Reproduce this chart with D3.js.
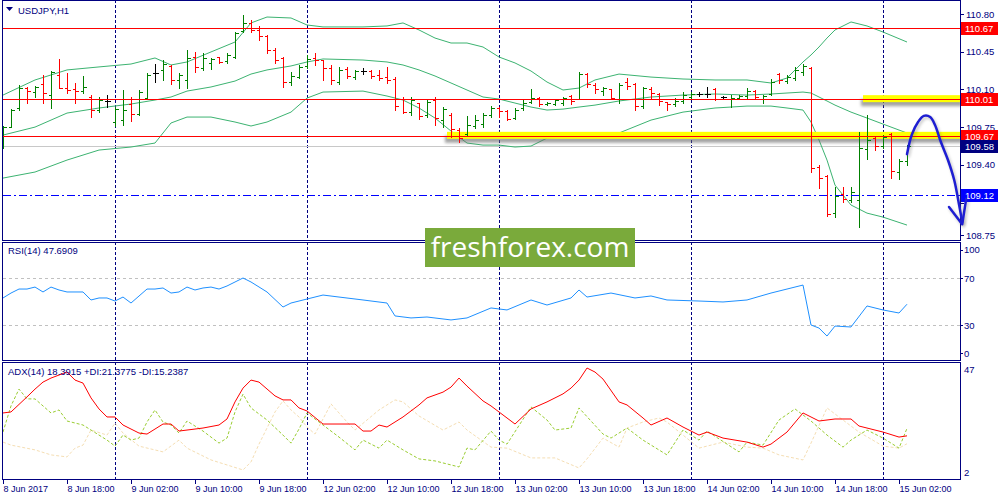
<!DOCTYPE html>
<html>
<head>
<meta charset="utf-8">
<script src="https://cdn.jsdelivr.net/npm/d3@7"></script>
<style>
body { margin: 0; background: #fff; }
svg { display: block; font-family: "Liberation Sans", Arial, sans-serif; }
</style>
</head>
<body>
<script>
// ---- data ----
const barOpen = [109.631,109.751,109.928,110.113,110.076,110.150,110.048,110.234,110.113,110.104,
  110.085,110.030,109.909,109.993,109.798,109.816,109.965,109.872,110.020,110.253,
  110.281,110.318,110.188,110.188,110.401,110.299,110.346,110.401,110.364,110.401,
  110.642,110.717,110.652,110.596,110.466,110.392,110.169,110.215,110.318,110.392,
  110.373,110.299,110.169,110.290,110.215,110.271,110.271,110.234,110.215,110.197,
  110.011,109.890,109.974,109.863,110.002,109.816,109.863,109.724,109.686,109.761,
  109.779,109.863,109.928,109.900,109.835,109.928,109.983,110.020,109.965,109.965,
  109.974,110.039,110.011,110.243,110.141,110.085,110.104,110.011,110.169,110.150,
  109.946,110.104,110.058,109.983,109.965,109.993,110.030,110.058,110.058,110.104,
  110.030,110.011,110.020,110.039,110.085,110.011,110.058,110.243,110.178,110.206,
  110.262,110.299,109.380,109.297,108.953,109.131,109.074,109.074,109.547,109.649,
  109.575,109.686,109.334,109.436];
const barHigh = [109.761,109.918,110.141,110.123,110.132,110.234,110.271,110.383,110.253,110.160,
  110.225,110.048,110.030,110.048,109.937,110.095,110.030,110.095,110.253,110.336,
  110.373,110.327,110.253,110.466,110.448,110.438,110.392,110.401,110.438,110.633,
  110.791,110.744,110.689,110.605,110.485,110.401,110.262,110.327,110.420,110.438,
  110.373,110.327,110.309,110.309,110.281,110.299,110.281,110.281,110.309,110.215,
  110.030,110.030,109.974,110.002,110.030,109.937,109.881,109.742,109.853,109.863,
  109.881,109.946,109.937,109.909,109.928,110.002,110.104,110.030,109.983,110.011,
  110.030,110.048,110.262,110.253,110.160,110.123,110.104,110.160,110.206,110.160,
  110.123,110.123,110.067,109.983,110.020,110.076,110.076,110.076,110.123,110.113,
  110.039,110.048,110.048,110.113,110.095,110.048,110.197,110.253,110.234,110.309,
  110.336,110.309,109.399,109.306,109.195,109.195,109.195,109.705,109.863,109.658,
  109.677,109.696,109.455,109.584];
const barLow = [109.556,109.751,109.909,109.974,110.030,109.974,109.928,110.113,110.067,109.974,
  110.067,109.844,109.890,109.937,109.761,109.770,109.807,109.863,110.011,110.169,
  110.188,110.150,110.113,110.113,110.262,110.281,110.290,110.346,110.346,110.392,
  110.633,110.633,110.559,110.438,110.346,110.123,110.141,110.206,110.299,110.327,
  110.188,110.150,110.150,110.206,110.197,110.243,110.206,110.188,110.160,109.909,
  109.881,109.863,109.825,109.844,109.770,109.751,109.658,109.612,109.677,109.742,
  109.751,109.844,109.844,109.816,109.825,109.909,109.974,109.946,109.955,109.955,
  109.955,109.965,110.011,110.123,110.067,110.048,110.011,109.974,110.104,109.909,
  109.928,110.020,109.955,109.909,109.946,109.974,110.020,110.039,110.030,110.002,
  110.011,109.937,110.011,110.020,110.011,109.974,110.048,110.160,110.160,110.188,
  110.234,109.334,109.186,108.925,108.916,109.055,109.055,108.823,109.455,109.538,
  109.556,109.278,109.269,109.399];
const barClose = [109.751,109.909,110.113,110.085,110.123,110.067,110.262,110.113,110.095,110.085,
  110.123,109.909,110.002,109.993,109.918,109.909,109.872,110.076,110.234,110.253,
  110.336,110.188,110.234,110.392,110.309,110.392,110.383,110.355,110.420,110.624,
  110.717,110.652,110.596,110.466,110.373,110.169,110.225,110.309,110.383,110.373,
  110.299,110.188,110.281,110.225,110.271,110.271,110.225,110.206,110.188,109.946,
  109.890,110.002,109.853,109.983,109.835,109.918,109.733,109.649,109.770,109.816,
  109.863,109.928,109.900,109.825,109.909,109.974,110.020,109.965,109.974,110.002,
  110.020,109.993,110.243,110.150,110.104,110.113,110.020,110.141,110.132,109.946,
  110.113,110.067,109.993,109.965,109.993,110.048,110.058,110.058,110.058,110.011,
  110.030,110.020,110.039,110.085,110.030,110.039,110.169,110.188,110.215,110.281,
  110.318,109.371,109.278,108.944,109.113,109.085,109.149,109.556,109.631,109.575,
  109.658,109.343,109.436,109.575];

// Bollinger bands, read at these bar indices
const bbIdx = [0,4,8,12,16,19,21,23,26,29,31,33,36,38,40,45,48,50,52,54,56,58,60,62,64,66,68,70,72,74,77,81,85,89,93,96,98,100,101,102,103,104,106,108,110,113];
const bbUpper = [110.048,110.188,110.281,110.309,110.336,110.392,110.327,110.355,110.448,110.540,
  110.717,110.772,110.763,110.698,110.680,110.680,110.689,110.717,110.652,110.577,
  110.531,110.531,110.494,110.401,110.346,110.271,110.169,110.095,110.113,110.188,
  110.243,110.215,110.197,110.188,110.188,110.160,110.206,110.355,110.420,110.494,
  110.577,110.652,110.726,110.689,110.633,110.540];
const bbMid = [109.677,109.751,109.881,109.928,109.965,110.002,110.030,110.085,110.123,110.178,
  110.243,110.281,110.318,110.355,110.383,110.373,110.355,110.327,110.281,110.225,
  110.160,110.095,110.030,110.011,109.974,109.937,109.909,109.918,109.937,109.955,
  109.993,110.030,110.048,110.058,110.048,110.058,110.067,110.076,110.067,110.030,
  109.993,109.955,109.890,109.835,109.779,109.696];
const bbLower = [109.278,109.334,109.445,109.538,109.566,109.603,109.789,109.844,109.844,109.798,
  109.761,109.798,109.890,110.020,110.076,110.085,110.039,110.002,109.928,109.835,
  109.714,109.603,109.584,109.584,109.566,109.575,109.649,109.658,109.658,109.658,
  109.696,109.816,109.890,109.928,109.946,109.946,109.928,109.909,109.798,109.631,
  109.445,109.213,109.028,108.953,108.916,108.842];

const rsiIdx = [0,1,2,3,4,5,6,7,8,10,11,12,13,14,15,16,18,19,20,21,22,23,24,25,26,27,28,30,31,33,35,36,37,40,42,45,48,49,51,53,56,58,61,63,66,68,71,72,73,76,79,81,83,87,90,93,96,100,101,102,103,104,106,108,110,112,113];
const rsiVal = [53.0,57.2,60.6,60.6,62.3,58.1,62.3,59.8,58.1,58.1,51.3,53.0,53.0,50.4,53.8,48.7,60.6,60.6,61.5,57.2,
  58.1,62.3,59.8,61.5,62.3,60.6,63.2,70.0,66.6,58.1,45.3,48.7,50.4,55.5,53.8,51.3,48.7,37.7,36.0,36.8,
  34.3,36.0,44.5,42.8,51.3,47.0,53.0,59.8,53.8,57.2,53.0,54.7,51.3,50.4,49.6,51.3,57.2,64.0,30.0,27.4,
  20.6,29.1,28.3,46.2,42.8,40.2,47.69];

const adxIdx = [0,1,3,4,5,6,7,8,9,10,11,12,13,14,15,17,18,19,20,21,22,25,27,28,29,30,31,32,34,35,36,37,38,40,42,44,45,46,47,48,50,51,52,53,55,56,57,58,60,61,63,64,66,68,70,71,72,73,74,75,77,78,80,81,83,85,87,88,90,93,95,96,98,100,102,104,106,107,110,112,113];
const adxVal = [27.5,27.9,33.9,37.0,39.8,41.4,42.6,43.8,40.6,39.4,33.5,29.1,25.9,25.9,22.7,19.5,19.1,21.1,23.1,23.1,
  20.3,21.5,22.7,25.1,31.9,37.4,40.6,39.8,34.3,32.7,32.7,29.5,28.3,23.1,23.1,23.1,20.3,20.3,22.7,21.9,
  25.9,28.3,30.7,33.5,35.8,37.8,41.4,38.2,32.3,30.3,25.5,23.1,29.1,31.9,35.1,37.4,40.6,45.4,43.8,41.0,
  31.9,30.7,25.5,22.7,25.5,21.9,18.7,19.9,17.5,15.9,13.9,15.1,19.9,27.5,24.3,25.1,25.1,22.3,19.9,17.9,18.39];
const pdiIdx = [0,1,2,3,4,6,7,8,10,11,13,14,15,16,17,18,19,20,21,22,23,25,27,28,29,30,31,33,35,36,37,38,40,42,44,45,47,48,50,52,54,57,58,59,61,62,63,66,68,69,71,72,75,76,78,80,83,85,87,88,92,93,95,97,99,101,103,105,106,108,110,112,113];
const pdiVal = [19.9,30.3,37.0,33.1,33.1,27.5,28.7,24.3,22.7,20.7,16.7,14.3,18.7,16.7,17.5,23.9,28.7,23.9,22.7,19.5,
  24.3,20.3,15.5,17.5,27.9,35.0,29.5,24.7,18.7,15.5,21.1,27.5,22.7,17.9,12.8,16.7,13.5,16.7,12.8,9.2,
  8.4,6.0,13.5,12.8,20.3,16.7,15.1,29.9,24.7,20.7,21.5,29.5,19.1,17.5,21.5,16.7,10.8,20.7,16.7,20.3,
  12.0,15.9,14.7,24.7,29.1,24.3,18.7,13.9,16.7,20.7,17.5,13.5,21.38];
const mdiIdx = [0,1,4,6,8,9,10,11,13,14,15,17,20,22,23,26,30,31,32,34,35,36,37,38,39,41,43,44,47,49,50,52,55,57,58,61,63,66,69,72,73,75,77,78,80,82,83,85,87,90,93,95,97,100,101,103,105,107,110,112,113];
const mdiVal = [15.9,14.7,12.8,10.8,10.0,13.5,14.7,20.7,18.7,23.5,19.5,14.3,12.0,16.7,13.5,8.8,4.8,8.0,15.1,27.9,
  32.3,28.7,25.9,21.9,19.1,31.1,23.9,20.7,28.7,32.7,31.9,26.3,20.7,23.9,20.7,13.9,13.5,9.6,9.6,5.6,
  9.2,17.5,13.9,21.5,23.9,25.5,23.9,18.7,13.5,15.9,13.9,13.5,10.8,8.8,15.5,29.5,24.7,19.9,14.3,13.5,15.24];

const timeIdx = [0,8,16,24,32,40,48,56,64,72,80,88,96,104,112];
const timeLabels = ["8 Jun 2017","8 Jun 18:00","9 Jun 02:00","9 Jun 10:00","9 Jun 18:00","12 Jun 02:00",
  "12 Jun 10:00","12 Jun 18:00","13 Jun 02:00","13 Jun 10:00","13 Jun 18:00","14 Jun 02:00",
  "14 Jun 10:00","14 Jun 18:00","15 Jun 02:00"];
const daySeps = [14, 38, 62, 86, 110];
const priceTicks = [108.75, 109.05, 109.40, 109.75, 110.10, 110.45, 110.80];
const rsiLevels = [70, 30];
const rsiTicks = [100, 70, 30, 0];
const adxTicks = [47, 2];

const redLevels = [110.67, 110.01, 109.67];
const bidPrice = 109.58;
const targetPrice = 109.12;
const yellowZones = [[55.5, 109.67], [107.5, 110.01]];   // [start bar, price]
const arrowPath = [[113.0,109.50],[113.6,109.68],[114.4,109.80],[115.1,109.855],[115.9,109.845],[116.5,109.77],
  [117.25,109.61],[118.1,109.45],[118.9,109.26],[119.4,109.075],[119.9,108.87]];
const arrowHead = [[118.25,109.01],[119.9,108.85],[120.4,109.085]];

// ---- layout ----
const width = 1000, height = 500;
const left = 2.5, right = 960.5;
const navy = "#000080";

const svg = d3.select("body").append("svg")
    .attr("width", width)
    .attr("height", height);

const x = d3.scaleLinear().domain([0, 113]).range([3, 907]);
const yP = d3.scaleLinear().domain([108.75, 110.80]).range([235, 14]);
const yR = d3.scaleLinear().domain([0, 100]).range([360.25, 242.75]);
const yA = d3.scaleLinear().domain([2, 47]).range([477, 364]);
const px = v => Math.round(v) + 0.5;

const defs = svg.append("defs");
[["clipMain", 1, 240], ["clipRsi", 243, 360], ["clipAdx", 363, 479]].forEach(c => {
    defs.append("clipPath").attr("id", c[0])
      .append("rect").attr("x", 3).attr("y", c[1]).attr("width", 957).attr("height", c[2] - c[1]);
});
defs.append("filter").attr("id", "blur").attr("x", "-20%").attr("y", "-100%").attr("width", "140%").attr("height", "300%")
    .append("feGaussianBlur").attr("stdDeviation", 1.6);

const main = svg.append("g").attr("clip-path", "url(#clipMain)");
const rsiG = svg.append("g").attr("clip-path", "url(#clipRsi)");
const adxG = svg.append("g").attr("clip-path", "url(#clipAdx)");

// day separators
[[main, 0, 240], [rsiG, 242, 360], [adxG, 362, 479]].forEach(p => {
    p[0].selectAll("line.sep").data(daySeps).join("line")
        .attr("x1", d => px(x(d))).attr("x2", d => px(x(d)))
        .attr("y1", p[1]).attr("y2", p[2])
        .attr("stroke", navy).attr("stroke-dasharray", "3,2");
});

// bid line
main.append("line")
    .attr("x1", 3).attr("x2", 960).attr("y1", px(yP(bidPrice))).attr("y2", px(yP(bidPrice)))
    .attr("stroke", "#c8c8c8");

// bollinger bands
const bbLine = arr => d3.line().x(d => x(d)).y((d, k) => yP(arr[k]))(bbIdx);
[bbUpper, bbMid, bbLower].forEach(arr => {
    main.append("path").attr("d", bbLine(arr))
        .attr("fill", "none").attr("stroke", "#3cb371").attr("stroke-width", 1);
});

// yellow zones
yellowZones.forEach(z => {
    const yy = yP(z[1]);
    const x0 = x(z[0]);
    main.append("rect").attr("x", x0 - 2).attr("y", yy).attr("width", 964 - x0).attr("height", 7)
        .attr("fill", "#666").attr("opacity", 0.6).attr("filter", "url(#blur)");
    main.append("rect").attr("x", x0).attr("y", yy - 4).attr("width", 962 - x0).attr("height", 7)
        .attr("fill", "#ffff00");
});

// bars
const bars = barOpen.map((o, i) => ({i: i, o: o, h: barHigh[i], l: barLow[i], c: barClose[i]}));
main.selectAll("path.bar").data(bars).join("path")
    .attr("class", "bar")
    .attr("fill", "none")
    .attr("shape-rendering", "crispEdges")
    .attr("stroke", d => d.c > d.o ? "#008000" : (d.c < d.o ? "#ff0000" : "#000000"))
    .attr("d", d => {
        const cx = px(x(d.i));
        return "M" + cx + "," + Math.round(yP(d.h)) + "V" + (Math.round(yP(d.l)) + 1)
             + "M" + (cx - 3) + "," + px(yP(d.o)) + "H" + cx
             + "M" + cx + "," + px(yP(d.c)) + "H" + (cx + 3);
    });

// horizontal red levels
main.selectAll("line.lvl").data(redLevels).join("line")
    .attr("x1", 3).attr("x2", 960)
    .attr("y1", d => px(yP(d))).attr("y2", d => px(yP(d)))
    .attr("stroke", "#ff0000");

// target dash-dot line
main.append("line")
    .attr("x1", 3).attr("x2", 960).attr("y1", px(yP(targetPrice))).attr("y2", px(yP(targetPrice)))
    .attr("stroke", "#0000ff").attr("stroke-dasharray", "8,3,2,3");

// RSI pane
rsiG.selectAll("line.lv").data(rsiLevels).join("line")
    .attr("x1", 3).attr("x2", 960)
    .attr("y1", d => px(yR(d))).attr("y2", d => px(yR(d)))
    .attr("stroke", "#c0c0c0").attr("stroke-dasharray", "3,3");
rsiG.append("path")
    .attr("d", d3.line().x(d => x(d)).y((d, k) => yR(rsiVal[k]))(rsiIdx))
    .attr("fill", "none").attr("stroke", "#1e90ff");

// ADX pane
adxG.append("path")
    .attr("d", d3.line().x(d => x(d)).y((d, k) => yA(mdiVal[k]))(mdiIdx))
    .attr("fill", "none").attr("stroke", "#f5deb3").attr("stroke-dasharray", "3,2");
adxG.append("path")
    .attr("d", d3.line().x(d => x(d)).y((d, k) => yA(pdiVal[k]))(pdiIdx))
    .attr("fill", "none").attr("stroke", "#9acd32").attr("stroke-dasharray", "3,2");
adxG.append("path")
    .attr("d", d3.line().x(d => x(d)).y((d, k) => yA(adxVal[k]))(adxIdx))
    .attr("fill", "none").attr("stroke", "#ff0000");

// pane frames
const frame = svg.append("g").attr("fill", "none").attr("stroke", navy).attr("shape-rendering", "crispEdges");
[[0.5, 240.5], [242.5, 360.5], [362.5, 479.5]].forEach(f => {
    frame.append("rect").attr("x", left).attr("y", f[0]).attr("width", right - left).attr("height", f[1] - f[0]);
});

// time axis
const tAxis = svg.append("g").attr("fill", navy).attr("font-size", 9);
tAxis.selectAll("line").data(timeIdx).join("line")
    .attr("x1", d => px(x(d))).attr("x2", d => px(x(d))).attr("y1", 480).attr("y2", 484)
    .attr("stroke", navy);
tAxis.selectAll("text").data(timeIdx).join("text")
    .attr("x", d => x(d) + 0.5).attr("y", 492)
    .text((d, k) => timeLabels[k]);

// price axis
const boxLevels = [
    {p: redLevels[0], fill: "#ff0000"},
    {p: redLevels[1], fill: "#ff0000"},
    {p: redLevels[2], fill: "#ff0000"},
    {p: bidPrice, fill: "#000080"},
    {p: targetPrice, fill: "#0000ff"}
];
const pAxis = svg.append("g").attr("font-size", 9.5);
const shownTicks = priceTicks.filter(t => !boxLevels.some(b => Math.abs(yP(b.p) - yP(t)) < 8));
pAxis.selectAll("line").data(priceTicks).join("line")
    .attr("x1", 961).attr("x2", 964)
    .attr("y1", d => px(yP(d))).attr("y2", d => px(yP(d)))
    .attr("stroke", navy);
pAxis.selectAll("text.tk").data(shownTicks).join("text")
    .attr("x", 966).attr("y", d => yP(d) + 3.5)
    .attr("fill", navy)
    .text(d => d.toFixed(2));
const box = pAxis.selectAll("g.box").data(boxLevels).join("g");
box.append("rect")
    .attr("x", 961).attr("y", d => Math.round(yP(d.p)) - 6).attr("width", 37).attr("height", 13)
    .attr("fill", d => d.fill);
box.append("text")
    .attr("x", 965).attr("y", d => Math.round(yP(d.p)) + 4)
    .attr("fill", "#fff")
    .text(d => d.p.toFixed(2));

// RSI and ADX axes
const rAxis = svg.append("g").attr("font-size", 9.5).attr("fill", navy);
const rOff = d => d === 100 ? 7 : (d === 0 ? -7 : 0);
rAxis.selectAll("text").data(rsiTicks).join("text")
    .attr("x", 964)
    .attr("y", d => yR(d) + 3.5 + rOff(d))
    .text(d => d);
rAxis.selectAll("line").data(rsiTicks).join("line")
    .attr("x1", 961).attr("x2", 963)
    .attr("y1", d => px(yR(d) + rOff(d)))
    .attr("y2", d => px(yR(d) + rOff(d)))
    .attr("stroke", navy);
const aAxis = svg.append("g").attr("font-size", 9.5).attr("fill", navy);
aAxis.selectAll("text").data(adxTicks).join("text")
    .attr("x", 964)
    .attr("y", d => yA(d) + 3.5 + (d === 47 ? 5 : -5))
    .text(d => d);

// pane titles
const titles = svg.append("g").attr("font-size", 9.5).attr("fill", navy);
titles.append("path").attr("d", "M6,7H13L9.5,11Z").attr("fill", navy);
titles.append("text").attr("x", 18).attr("y", 14).text("USDJPY,H1");
titles.append("text").attr("x", 8).attr("y", 254).text("RSI(14) 47.6909");
titles.append("text").attr("x", 8).attr("y", 375).text("ADX(14) 18.3915 +DI:21.3775 -DI:15.2387");

// hand-drawn arrow
const arrowG = svg.append("g").attr("fill", "none").attr("stroke-linecap", "round").attr("stroke-linejoin", "round");
[[arrowPath, d3.curveCatmullRom], [arrowHead, d3.curveLinear]].forEach(a => {
    const ln = d3.line().x(d => x(d[0])).y(d => yP(d[1])).curve(a[1]);
    arrowG.append("path").attr("d", ln(a[0])).attr("transform", "translate(1.5,2)")
        .attr("stroke", "#555").attr("stroke-width", 2.5).attr("opacity", 0.35).attr("filter", "url(#blur)");
    arrowG.append("path").attr("d", ln(a[0]))
        .attr("stroke", "#1e1ed2").attr("stroke-width", 2.5);
});

// watermark
svg.append("rect").attr("x", 425).attr("y", 228).attr("width", 210).attr("height", 39).attr("fill", "#7aaa3b");
svg.append("text").attr("x", 530).attr("y", 257).attr("text-anchor", "middle")
    .attr("font-family", "'Open Sans', sans-serif").attr("font-size", 28).attr("fill", "#fff")
    .text("freshforex.com");
</script>
</body>
</html>
